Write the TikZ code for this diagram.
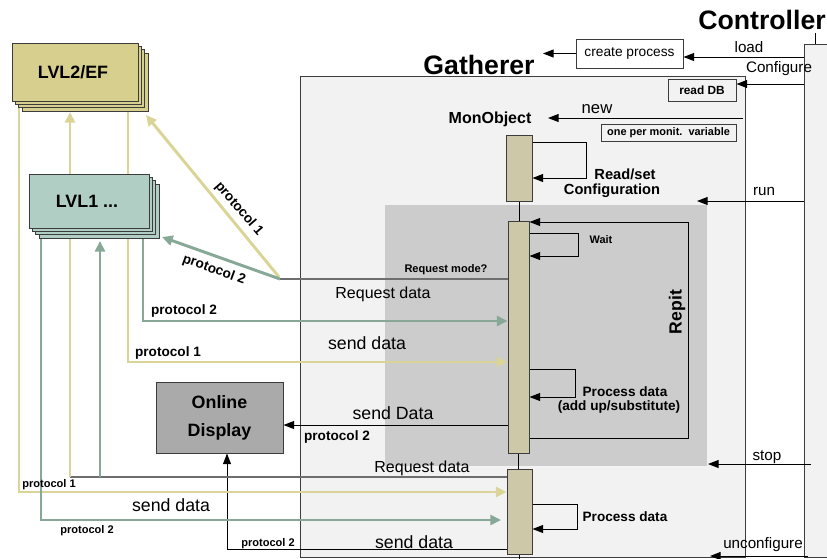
\documentclass[tikz,border=0pt]{standalone}
\usepackage{fontspec}
\setmainfont{Liberation Sans}
\usetikzlibrary{arrows.meta,shadows}
\definecolor{gbg}{RGB}{242,242,242}
\definecolor{repgray}{RGB}{204,204,204}
\definecolor{lvltwo}{RGB}{214,207,142}
\definecolor{lvlone}{RGB}{177,206,197}
\definecolor{actfill}{RGB}{204,200,168}
\definecolor{dispfill}{RGB}{170,170,170}
\definecolor{yel}{RGB}{218,213,150}
\definecolor{grn}{RGB}{135,168,150}
\definecolor{dgray}{RGB}{110,110,110}
\definecolor{edge}{RGB}{60,60,60}
\pgfdeclarelayer{boxes}
\pgfdeclarelayer{wires}
\pgfsetlayers{boxes,wires,main}
\newcommand\fsz[2]{\fontsize{#1}{#2}\selectfont}
\tikzset{
  blk/.style={draw=black, line width=0.75pt, -{Triangle[length=8pt,width=6pt]}},
  plainline/.style={draw=black, line width=0.75pt},
  yelarrow/.style={draw=yel, line width=2.2pt, -{Triangle[length=8pt,width=7.5pt]}},
  grnarrow/.style={draw=grn, line width=2.2pt, -{Triangle[length=8pt,width=7.5pt]}},
  reqline/.style={draw=dgray, line width=2pt},
  rbox/.style={draw=edge, line width=0.75pt, inner sep=0pt},
  actbox/.style={rbox, fill=actfill},
  lbl/.style={inner sep=0pt, font=\fsz{11.4}{13}},
  msg/.style={inner sep=0pt, font=\fsz{13.3}{15}},
  blab/.style={inner sep=0pt, font=\fsz{10.2}{12}\bfseries},
  slab/.style={inner sep=0pt, font=\fsz{8.3}{10}\bfseries},
  bigtitle/.style={inner sep=0pt, font=\fsz{20}{24}\bfseries},
  stackshadows/.style={
    copy shadow={shadow xshift=7.5pt,shadow yshift=-7.5pt,fill=#1,draw=edge},
    copy shadow={shadow xshift=5pt,shadow yshift=-5pt,fill=#1,draw=edge},
    copy shadow={shadow xshift=2.5pt,shadow yshift=-2.5pt,fill=#1,draw=edge}},
}
\begin{document}
\begin{tikzpicture}[x=0.75pt,y=-0.75pt]
\useasboundingbox (0,0) rectangle (827,558);
\begin{pgfonlayer}{boxes}
\fill[white] (0,0) rectangle (827,558);
\draw[edge, fill=gbg, line width=0.75pt] (300,76) rectangle (745,557);
\draw[edge, fill=gbg, line width=0.75pt] (804,44) rectangle (835,557);
\fill[repgray] (385,205) rectangle (707,466);
\end{pgfonlayer}

% titles
\node[bigtitle] (ctrltitle) at (762,20) {Controller};
\node[bigtitle] (gathtitle) at (479,65) {Gatherer};
\draw[plainline, line width=0.6pt] (815.5,33) -- (815.5,44);

% boxes
\node[rbox, fill=white, minimum width=80.25pt, minimum height=21.75pt, font=\fsz{10.3}{12}] (create) at (629.5,53.5) {create process};
\node[rbox, fill=gbg, minimum width=51pt, minimum height=16.5pt, font=\fsz{8.9}{10}\bfseries] (readdb) at (702,90) {read DB};
\node[rbox, fill=gbg, minimum width=101.25pt, minimum height=12.75pt, font=\fsz{8.2}{10}\bfseries] (oneper) at (668.5,132.5) {one per monit.\ \ variable};
\node[actbox, minimum width=19.5pt, minimum height=49.5pt] (mono) at (519,168) {};
\node[actbox, minimum width=15.75pt, minimum height=174pt] (act1) at (518.5,337) {};
\node[actbox, minimum width=18.75pt, minimum height=63.75pt] (act2) at (519.5,511.5) {};
\node[rbox, fill=dispfill, minimum width=95.25pt, minimum height=53.25pt, align=center, font=\fsz{13.4}{21}\bfseries] (disp) at (219.5,417.5) {Online\\Display};
\node[rbox, fill=lvltwo, minimum width=94.5pt, minimum height=43.5pt, stackshadows=lvltwo, font=\fsz{13.4}{16}\bfseries, text depth=0pt] (lvl2) at (75,72) {\hspace*{-3pt}LVL2/EF};
\node[rbox, fill=lvlone, minimum width=90pt, minimum height=40.5pt, stackshadows=lvlone, font=\fsz{13.4}{16}\bfseries] (lvl1) at (89,201) {\hspace*{-3pt}LVL1 ...};

% coordinates
\coordinate (ldS) at (804,57);
\coordinate (cfS) at (804,84);
\coordinate (nwS) at (743,118);
\coordinate (nwE) at (548,118);
\coordinate (rnS) at (804,201);
\coordinate (rnE) at (697,201);
\coordinate (spS) at (811,464);
\coordinate (spE) at (708,464);
\coordinate (ucS) at (808,556);
\coordinate (ucE) at (710,556);
\coordinate (cpE) at (543,53.5);
\coordinate (rq) at (280,279);
\coordinate (rqy) at (279,277);
\coordinate (l2tipA) at (70,112);
\coordinate (l2tipB) at (146,115);
\coordinate (l1tipA) at (100,241);
\coordinate (l1tipB) at (162,237);
\coordinate (rq2) at (70,477);
\coordinate (rq2g) at (100,477);

\begin{pgfonlayer}{wires}
% black controller messages
\draw[blk] (create.west) -- (cpE);
\draw[blk] (ldS) -- (ldS -| create.east);
\draw[blk] (cfS) -- (cfS -| readdb.east);
\draw[blk] (nwS) -- (nwE);
\draw[blk] (rnS) -- (rnE);
\draw[blk] (spS) -- (spE);
\draw[blk] (ucS) -- (ucE);
% self loops
\draw[blk] (mono.east |- 0,142) -- (586,142) -- (586,178) -- (mono.east |- 0,178);
\draw[blk] (act1.east |- 0,438) -- (688,438) -- (688,222) -- (act1.east |- 0,222);
\draw[blk] (act1.east |- 0,233) -- (578,233) -- (578,256) -- (act1.east |- 0,256);
\draw[blk] (act1.east |- 0,369) -- (575,369) -- (575,397) -- (act1.east |- 0,397);
\draw[blk] (act2.east |- 0,504) -- (577,504) -- (577,529) -- (act2.east |- 0,529);
% lifeline joins
\draw[plainline] (mono.south) -- (mono.south |- act1.north);
\draw[plainline] (act1.south) -- (act1.south |- act2.north);
\draw[plainline] (act2.south) -- ++(0,6);
% send to display
\draw[blk] (act1.west |- 0,425) -- (disp.east |- 0,425);
\draw[blk] (act2.west |- 0,549) -- (227,549) -- (disp.south -| 227,0);
% request lines
\draw[reqline] (rq) -- (act1.west |- rq);
\draw[reqline] (rq2) -- (act2.west |- rq2);
% yellow (protocol 1)
\draw[yelarrow] (lvl2.south -| 19,0) -- (19,492) -- (act2.west |- 0,492);
\draw[yelarrow] (rq2) -- (l2tipA);
\draw[yelarrow] (lvl2.south -| 128,0) -- (128,362) -- (act1.west |- 0,362);
\draw[yelarrow] (rqy) -- (l2tipB);
% green (protocol 2)
\draw[grnarrow] (lvl1.south -| 41,0) -- (41,520) -- (501,520);
\draw[grnarrow] (rq2g) -- (l1tipA);
\draw[grnarrow] (lvl1.south -| 143,0) -- (143,321) -- (act1.west |- 0,321);
\draw[grnarrow] (rq) -- (l1tipB);
\end{pgfonlayer}

% labels
\node[lbl] (tload) at (749,47) {load};
\node[lbl] (tconf) at (779,69) {Configure};
\node[inner sep=0pt, font=\fsz{12.5}{14}] (tnew) at (597,109) {new};
\node[lbl] (trun) at (764,191) {run};
\node[lbl] (tstop) at (767,457) {stop};
\node[lbl] (tunc) at (763,545) {unconfigure};
\node[inner sep=0pt, font=\fsz{12}{14}\bfseries] (tmono) at (490,119) {MonObject};
\node[inner sep=0pt, font=\fsz{11}{13}\bfseries] (trs1) at (625,174) {Read/set};
\node[inner sep=0pt, font=\fsz{11}{13}\bfseries] (trs2) at (612,191) {Configuration};
\node[inner sep=0pt, font=\fsz{8.2}{10}\bfseries] (twait) at (601,240) {Wait};
\node[inner sep=0pt, font=\fsz{8.3}{10}\bfseries] (treqm) at (446,270) {Request mode?};
\node[inner sep=0pt, font=\fsz{12}{14}] (treq1) at (383,294) {Request data};
\node[blab] (tp2a) at (184,311) {protocol 2};
\node[msg] (tsd1) at (367,343) {send data};
\node[blab] (tp1a) at (168,353) {protocol 1};
\node[inner sep=0pt, rotate=90, font=\fsz{13.2}{15}\bfseries] (trepit) at (677,312) {Repit};
\node[blab] (tpd1) at (625,392) {Process data};
\node[blab] (tpd2) at (619,407) {(add up/substitute)};
\node[msg] (tsD) at (393,413) {send Data};
\node[blab] (tp2b) at (337,437) {protocol 2};
\node[inner sep=0pt, font=\fsz{12}{14}] (treq2) at (422,468) {Request data};
\node[slab] (tp1b) at (49,485) {protocol 1};
\node[msg] (tsd2) at (171,505) {send data};
\node[slab] (tp2c) at (87,531) {protocol 2};
\node[slab] (tp2d) at (268,544) {protocol 2};
\node[msg] (tsd3) at (414,542) {send data};
\node[blab] (tpd3) at (625,517) {Process data};
\node[blab, rotate=-49] (tdiag1) at (239,209) {protocol 1};
\node[blab, rotate=-20] (tdiag2) at (214,270) {protocol 2};
\end{tikzpicture}
\end{document}
